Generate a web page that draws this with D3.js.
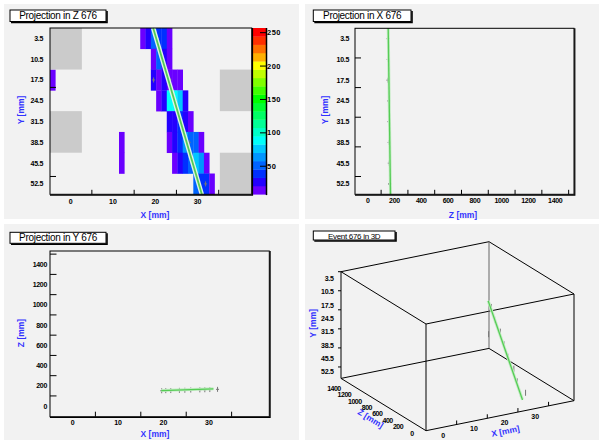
<!DOCTYPE html>
<html><head><meta charset="utf-8">
<script src="https://cdn.jsdelivr.net/npm/d3@7"></script>
<style>
html,body{margin:0;padding:0;background:#fff;}
svg{display:block;}
</style></head><body>
<svg id="c" width="603" height="440"></svg>
<script>
// ---------------- data ----------------
const eventId = 676;
const rowCenters = [3.5, 10.5, 17.5, 24.5, 31.5, 38.5, 45.5, 52.5];
const rowLabels = ["3.5", "10.5", "17.5", "24.5", "31.5", "38.5", "45.5", "52.5"];
const nCols = 38;
const nRows = 8;
const xLabelVals = [0, 10, 20, 30];
const xTickVals = [5, 15, 25, 35];
const yTickVals = [10, 20, 30, 40, 50];
const zLabelVals = [0, 200, 400, 600, 800, 1000, 1200, 1400];
const zTickVals = [100, 300, 500, 700, 900, 1100, 1300, 1500];
const barLabelVals = [50, 100, 150, 200, 250];
const chargeRange = [8, 257];
// pixel cells of the Z projection: [column, row, charge]
const cells = [
  [17,0,14],[18,0,27],[19,0,52],[20,0,39],[21,0,39],[22,0,14],
  [19,1,14],[20,1,52],[21,1,27],[22,1,14],
  [0,2,14],[19,2,27],[20,2,14],[21,2,27],[22,2,14],[23,2,14],[24,2,14],
  [20,3,14],[21,3,27],[22,3,89],[23,3,89],[24,3,77],[25,3,27],
  [22,4,27],[23,4,27],[24,4,39],[25,4,27],[26,4,14],
  [13,5,14],[22,5,14],[23,5,27],[24,5,39],[25,5,64],[26,5,52],[27,5,52],[28,5,14],
  [13,6,14],[23,6,14],[24,6,27],[25,6,39],[26,6,52],[27,6,77],[28,6,64],[29,6,14],
  [27,7,52],[28,7,39],[29,7,39],[30,7,14]
];
// dead zones: [firstCol, lastCol, firstRow, lastRow]
const deadZones = [[0,5,0,1],[0,5,4,5],[32,37,2,3],[32,37,6,7]];
// reconstructed hits (mm)
const hitX = [20.5, 21.6, 19.6, 23.5, 24.7, 26.0, 28.0, 29.1, 30.2, 31.9];
const hitY = [3.5, 10.5, 17.5, 17.5, 24.5, 31.5, 38.5, 45.5, 52.5, 52.5];
const hitZ = [152, 153, 151, 155, 156, 158, 160, 161, 163, 165];
// fitted track end points
const fitX = [19.5, 31.0];
const fitY = [0, 56];
const fitZ = [153, 170];
// colour palette (20 contour levels, low -> high)
const palette = ["#6a00ff","#2400ff","#0030ff","#0064ff","#0096ff","#00c8ff","#00fffa","#00ffc8",
  "#00ff96","#00ff64","#00ff32","#00ff00","#40ff00","#80ff00","#c0ff00","#ffff00",
  "#ffb000","#ff7000","#ff3000","#ff0000"];

// ---------------- drawing ----------------
const FONT = '"Liberation Sans", Arial, Helvetica, sans-serif';
const PAD_BG = "#f2f2f2";
const AX_BLUE = "#3232ff";
const svg = d3.select("#c").attr("font-family", FONT);
svg.append("rect").attr("width", 603).attr("height", 440).attr("fill", "#fff");

const padRects = [[4,4,295,215],[305,4,294,215],[4,224,295,216],[305,224,294,216]];
padRects.forEach(r => svg.append("rect").attr("x", r[0]).attr("y", r[1])
  .attr("width", r[2]).attr("height", r[3]).attr("fill", PAD_BG));

function text(g, x, y, s, o = {}) {
  const t = g.append("text").attr("x", x).attr("y", y).text(s)
    .attr("font-size", o.size || 7).attr("fill", o.fill || "#000")
    .attr("font-weight", o.weight || "bold")
    .attr("text-anchor", o.anchor || "middle");
  if (o.rot !== undefined) t.attr("transform", `rotate(${o.rot},${x},${y})`);
  if (o.ls !== undefined) t.attr("letter-spacing", o.ls);
  return t;
}
function titleBox(x, y, w, h, s, size, base) {
  svg.append("rect").attr("x", x).attr("y", y).attr("width", w).attr("height", h)
    .attr("fill", "#fff").attr("stroke", "#000").attr("stroke-width", 1);
  svg.append("path").attr("d", `M${x+1},${y+h+1}H${x+w+1}V${y+1}`)
    .attr("fill", "none").attr("stroke", "#000").attr("stroke-width", 1.6);
  text(svg, x + w / 2, base, s, {size: size, weight: "normal", ls: -0.3});
}
function frame(x0, y0, x1, y1) {
  svg.append("rect").attr("x", x0).attr("y", y0).attr("width", x1 - x0).attr("height", y1 - y0)
    .attr("fill", "none").attr("stroke", "#000").attr("stroke-width", 1);
  svg.append("path").attr("d", `M${x0},${y1+0.8}H${x1+0.8}V${y0}`)
    .attr("fill", "none").attr("stroke", "#000").attr("stroke-width", 1.2);
}
function marker(g, x, y) {
  g.append("path").attr("d", `M${x},${y-2.5}V${y+2.5}M${x-1.5},${y}H${x+1.5}`)
    .attr("stroke", "#777").attr("stroke-width", 1).attr("fill", "none");
}
function track(g, pts, wide) {
  const line = d3.line();
  g.append("path").attr("d", line(pts)).attr("fill", "none")
    .attr("stroke", wide ? "#dff5e6" : "#c4ecc4").attr("stroke-width", wide ? 4.5 : 3);
  g.append("path").attr("d", line(pts)).attr("fill", "none")
    .attr("stroke", "#55cc55").attr("stroke-width", wide ? 1.8 : 1.3);
}

// ===== Pad 1: Projection in Z =====
{
  const L = 50, R = 251.7, T = 28, B = 194.3;
  const xs = d3.scaleLinear().domain([-4.9, 42.8]).range([L, R]);
  const ys = d3.scaleLinear().domain([0, 56]).range([T, B]);
  const cs = d3.scaleBand().domain(d3.range(nCols)).range([L, R]);
  const rs = d3.scaleBand().domain(d3.range(nRows)).range([T, B]);
  const cz = d3.scaleQuantize().domain(chargeRange).range(palette);
  const g = svg.append("g");
  g.selectAll("rect.cell").data(cells).join("rect").attr("class", "cell")
    .attr("x", d => cs(d[0])).attr("y", d => rs(d[1]))
    .attr("width", cs.bandwidth() + 0.3).attr("height", rs.bandwidth() + 0.3)
    .attr("fill", d => cz(d[2]));
  // ticks
  yTickVals.forEach(v => g.append("line").attr("x1", L).attr("x2", L + 6)
    .attr("y1", ys(v)).attr("y2", ys(v)).attr("stroke", "#000"));
  xTickVals.forEach(v => g.append("line").attr("x1", xs(v)).attr("x2", xs(v))
    .attr("y1", B).attr("y2", B - 4.5).attr("stroke", "#000"));
  g.selectAll("rect.dead").data(deadZones).join("rect").attr("class", "dead")
    .attr("x", d => cs(d[0])).attr("y", d => rs(d[2]))
    .attr("width", d => cs(d[1]) + cs.bandwidth() - cs(d[0]))
    .attr("height", d => rs(d[3]) + rs.bandwidth() - rs(d[2]))
    .attr("fill", "#cbcbcb");
  hitX.forEach((x, i) => marker(g, xs(x), ys(hitY[i])));
  track(g, fitX.map((x, i) => [xs(x), ys(fitY[i])]), true);
  frame(L, T, R, B);
  // colour bar
  const bz = d3.scaleLinear().domain(chargeRange).range([B, T]);
  const step = (chargeRange[1] - chargeRange[0]) / palette.length;
  palette.forEach((c, i) => g.append("rect").attr("x", 252.7).attr("width", 13.3)
    .attr("y", bz(chargeRange[0] + (i + 1) * step)).attr("height", bz(chargeRange[0]) - bz(chargeRange[0] + step) + 0.3)
    .attr("fill", c));
  g.append("line").attr("x1", 266.5).attr("x2", 266.5).attr("y1", T).attr("y2", B + 0.8)
    .attr("stroke", "#000").attr("stroke-width", 1.5);
  barLabelVals.forEach(v => {
    g.append("line").attr("x1", 260).attr("x2", 266).attr("y1", bz(v)).attr("y2", bz(v)).attr("stroke", "#000");
    text(g, 267, bz(v) + 2.6, String(v), {anchor: "start", size: 7.5, ls: 0.5});
  });
  rowCenters.forEach((v, i) => text(g, 43, ys(v) + 2.5, rowLabels[i], {anchor: "end", ls: -0.3}));
  xLabelVals.forEach(v => text(g, xs(v), 204, String(v)));
  text(g, 155, 217.5, "X [mm]", {size: 8.5, fill: AX_BLUE});
  text(g, 24, 110, "Y [mm]", {size: 8.5, fill: AX_BLUE, rot: -90});
  titleBox(10, 10, 96, 11.5, `Projection in Z ${eventId}`, 10, 19);
}

// ===== Pad 2: Projection in X =====
{
  const L = 355, R = 574, T = 28.3, B = 194.3;
  const xs = d3.scaleLinear().domain([-95, 1540]).range([L, R]);
  const ys = d3.scaleLinear().domain([0, 56]).range([T, B]);
  const g = svg.append("g");
  yTickVals.forEach(v => g.append("line").attr("x1", L).attr("x2", L + 6)
    .attr("y1", ys(v)).attr("y2", ys(v)).attr("stroke", "#000"));
  zTickVals.forEach(v => g.append("line").attr("x1", xs(v)).attr("x2", xs(v))
    .attr("y1", B).attr("y2", B - 4.5).attr("stroke", "#000"));
  hitZ.forEach((z, i) => marker(g, xs(z), ys(hitY[i])));
  track(g, fitZ.map((z, i) => [xs(z), ys(fitY[i])]), false);
  frame(L, T, R, B);
  rowCenters.forEach((v, i) => text(g, 349, ys(v) + 2.5, rowLabels[i], {anchor: "end", ls: -0.3}));
  zLabelVals.forEach(v => text(g, xs(v), 202.5, String(v), {ls: -0.3}));
  text(g, 463, 217.5, "Z [mm]", {size: 8.5, fill: AX_BLUE});
  text(g, 328, 110, "Y [mm]", {size: 8.5, fill: AX_BLUE, rot: -90});
  titleBox(313.3, 10, 97.7, 11.5, `Projection in X ${eventId}`, 10, 19);
}

// ===== Pad 3: Projection in Y =====
{
  const L = 50, R = 269.3, T = 251, B = 416.7;
  const xs = d3.scaleLinear().domain([-5, 43.3]).range([L, R]);
  const ys = d3.scaleLinear().domain([-105, 1531]).range([B, T]);
  const g = svg.append("g");
  zTickVals.forEach(v => g.append("line").attr("x1", L).attr("x2", L + 6.5)
    .attr("y1", ys(v)).attr("y2", ys(v)).attr("stroke", "#000"));
  xTickVals.forEach(v => g.append("line").attr("x1", xs(v)).attr("x2", xs(v))
    .attr("y1", B).attr("y2", B - 5).attr("stroke", "#000"));
  hitX.forEach((x, i) => marker(g, xs(x), ys(hitZ[i])));
  track(g, fitX.map((x, i) => [xs(x), ys(fitZ[i])]), false);
  frame(L, T, R, B);
  zLabelVals.forEach(v => text(g, 47, ys(v) + 2.5, String(v), {anchor: "end", ls: -0.3}));
  xLabelVals.forEach(v => text(g, xs(v), 424.5, String(v)));
  text(g, 155, 437, "X [mm]", {size: 8.5, fill: AX_BLUE});
  text(g, 24, 333, "Z [mm]", {size: 8.5, fill: AX_BLUE, rot: -90});
  titleBox(10, 232.3, 96, 11, `Projection in Y ${eventId}`, 10, 240.8);
}

// ===== Pad 4: 3D view =====
{
  const X3 = d3.scaleLinear().domain([-5, 43.3]).range([0, 1]);
  const Y3 = d3.scaleLinear().domain([0, 56]).range([0, 1]);
  const Z3 = d3.scaleLinear().domain([-95, 1540]).range([0, 1]);
  const P = (x, y, z) => {
    const fx = X3(x), fy = Y3(y), fz = Z3(z);
    return [426 + 148 * fx - 85 * fz, 324 - 30 * fx + 106.7 * fy - 52.3 * fz];
  };
  const g = svg.append("g");
  const xd = X3.domain(), yd = Y3.domain(), zd = Z3.domain();
  const C = (i, j, k) => P(xd[i], yd[j], zd[k]);
  const edges = [
    [[0,0,1],[1,0,1]], [[1,0,1],[1,0,0]], [[1,0,0],[0,0,0]], [[0,0,0],[0,0,1]],
    [[0,1,1],[1,1,1]], [[1,1,1],[1,1,0]], [[1,1,0],[0,1,0]], [[0,1,0],[0,1,1]],
    [[0,0,1],[0,1,1]], [[0,0,0],[0,1,0]], [[1,0,0],[1,1,0]]
  ];
  edges.forEach(e => {
    const a = C(...e[0]), b = C(...e[1]);
    g.append("line").attr("x1", a[0]).attr("y1", a[1]).attr("x2", b[0]).attr("y2", b[1])
      .attr("stroke", "#000").attr("stroke-width", 1);
  });
  { const a = C(1,0,1), b = C(1,1,1);
    g.append("line").attr("x1", a[0]).attr("y1", a[1]).attr("x2", b[0]).attr("y2", b[1])
      .attr("stroke", "#666").attr("stroke-width", 1); }
  // Y axis (back-left vertical edge)
  yTickVals.concat([0]).forEach(v => { const p = P(xd[0], v, zd[1]);
    g.append("line").attr("x1", p[0] - 3).attr("x2", p[0]).attr("y1", p[1]).attr("y2", p[1]).attr("stroke", "#000"); });
  rowCenters.forEach((v, i) => { const p = P(xd[0], v, zd[1]);
    text(g, 333.5, p[1] + 2.5, rowLabels[i], {anchor: "end", ls: -0.3}); });
  // X axis (front-bottom edge)
  xTickVals.forEach(v => { const p = P(v, yd[1], zd[0]);
    g.append("line").attr("x1", p[0]).attr("x2", p[0]).attr("y1", p[1]).attr("y2", p[1] - 4).attr("stroke", "#000"); });
  xLabelVals.forEach(v => { const p = P(v, yd[1], zd[0]);
    text(g, p[0] + 2, p[1] + 10, String(v)); });
  // Z axis (left-bottom edge)
  zLabelVals.forEach(v => { const p = P(xd[0], yd[1], v);
    text(g, p[0] - 7.5, p[1] + 8, String(v), {anchor: "end", ls: -0.5}); });
  // hits and track
  hitX.forEach((x, i) => { const p = P(x, hitY[i], hitZ[i]);
    g.append("line").attr("x1", p[0]).attr("x2", p[0]).attr("y1", p[1] - 3).attr("y2", p[1] + 3)
      .attr("stroke", "#777"); });
  track(g, fitX.map((x, i) => P(x, fitY[i], fitZ[i])), false);
  text(g, 316, 323.3, "Y [mm]", {size: 8.5, fill: AX_BLUE, rot: -90});
  text(g, 506, 434, "X [mm]", {size: 8.5, fill: AX_BLUE, rot: -11.5});
  text(g, 369, 421, "Z [mm]", {size: 8.5, fill: AX_BLUE, rot: 31.6});
  titleBox(313.3, 231, 81.7, 9, `Event ${eventId} in 3D`, 8, 238.6);
}
</script>
</body></html>
